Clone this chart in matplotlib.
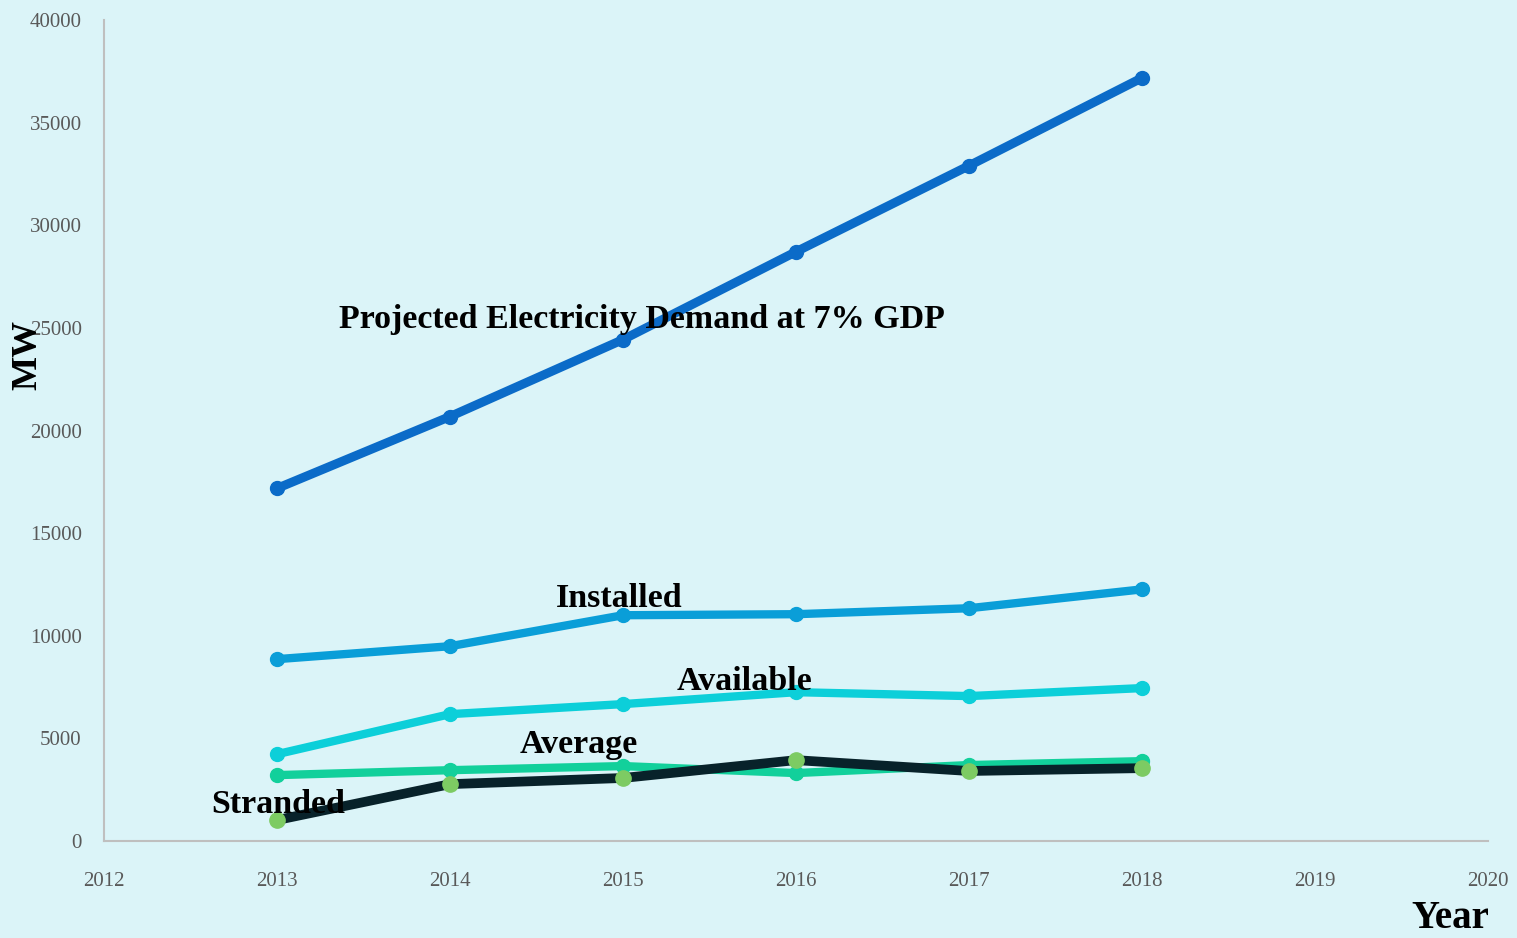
import matplotlib.pyplot as plt

# data (MW)
years = [2013, 2014, 2015, 2016, 2017, 2018]
projected = [17180, 20680, 24430, 28710, 32900, 37180]
installed = [8860, 9490, 11000, 11050, 11340, 12260]
available = [4230, 6180, 6670, 7250, 7060, 7450]
average = [3210, 3450, 3650, 3310, 3700, 3890]
stranded = [1020, 2770, 3070, 3940, 3410, 3550]

x_ticks = list(range(2012, 2021))
y_ticks = list(range(0, 40001, 5000))

bg = '#dbf4f8'
plt.rcParams['font.family'] = ['Liberation Serif', 'DejaVu Serif']

fig = plt.figure(figsize=(15.17, 9.38), dpi=100, facecolor=bg)
ax = fig.add_axes([104 / 1517, 97 / 938, (1488 - 104) / 1517, (841 - 20) / 938])
ax.set_facecolor(bg)

ax.plot(years, projected, color='#0b6bc8', lw=6.5, marker='o', ms=10, solid_capstyle='round')
ax.plot(years, installed, color='#0a9ed8', lw=6, marker='o', ms=10, solid_capstyle='round')
ax.plot(years, available, color='#0ccfd9', lw=6, marker='o', ms=10, solid_capstyle='round')
ax.plot(years, average, color='#12d09b', lw=6, marker='o', ms=10, solid_capstyle='round')
ax.plot(years, stranded, color='#08222a', lw=7, marker='o', ms=11,
        markerfacecolor='#7dcb63', markeredgecolor='#7dcb63', solid_capstyle='round')

ax.set_xlim(2012, 2020)
ax.set_ylim(0, 40000)
ax.set_xticks(x_ticks)
ax.set_yticks(y_ticks)
ax.tick_params(length=0, labelsize=15, labelcolor='#595959')
ax.tick_params(axis='x', pad=22)
ax.tick_params(axis='y', pad=16)

for side in ['top', 'right']:
    ax.spines[side].set_visible(False)
for side in ['left', 'bottom']:
    ax.spines[side].set_color('#bfbfbf')
    ax.spines[side].set_linewidth(1.5)

lbl = dict(fontsize=24.5, fontweight='bold', color='black')
ax.text(2013.36, 25400, 'Projected Electricity Demand at 7% GDP', ha='left', va='center', **lbl)
ax.text(2014.61, 11820, 'Installed', ha='left', va='center', **lbl)
ax.text(2015.31, 7790, 'Available', ha='left', va='center', **lbl)
ax.text(2014.40, 4720, 'Average', ha='left', va='center', **lbl)
ax.text(2012.62, 1800, 'Stranded', ha='left', va='center', **lbl)

fig.text(28 / 1517, 1 - 355 / 938, 'MW', rotation=90, ha='center', va='center',
         fontsize=26, fontweight='bold')
fig.text(1450 / 1517, 1 - 918 / 938, 'Year', ha='center', va='center',
         fontsize=28, fontweight='bold')

fig.savefig('out.png', dpi=100, facecolor=bg)
